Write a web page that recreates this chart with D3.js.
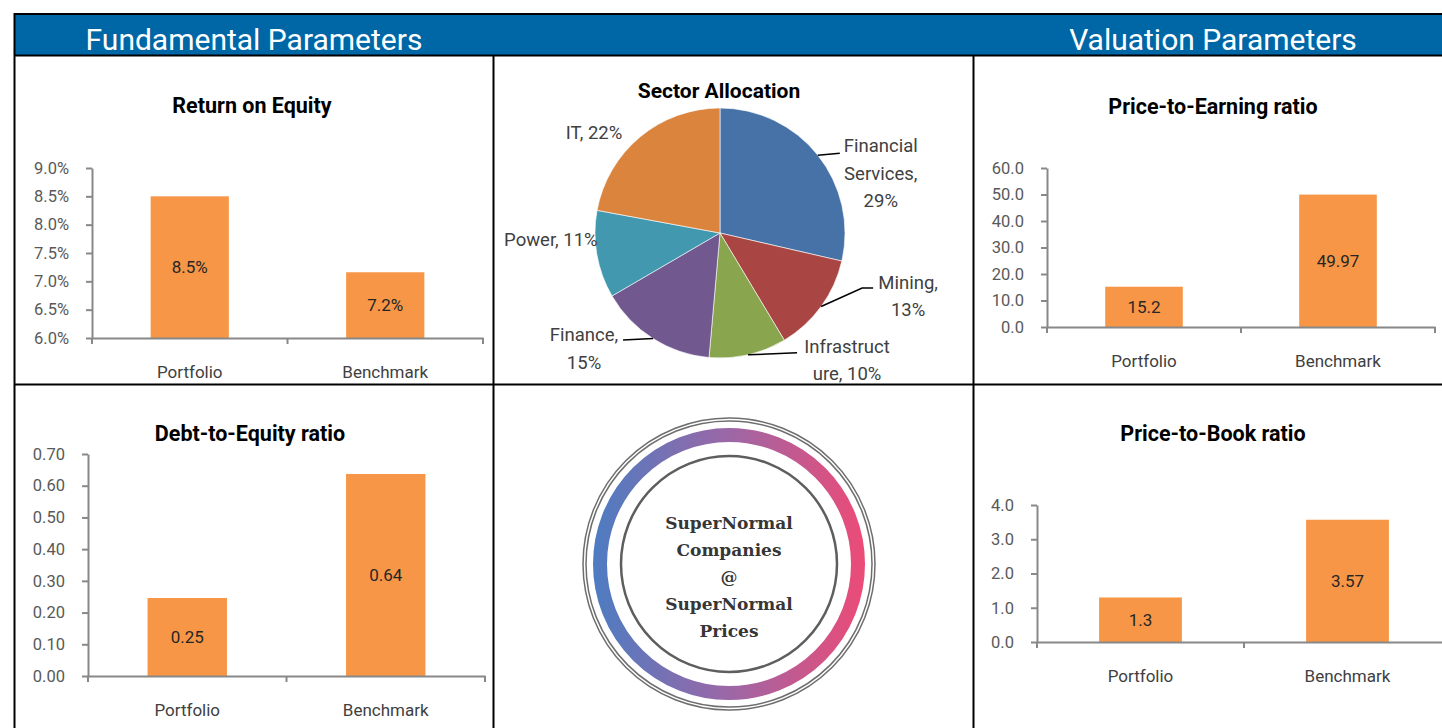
<!DOCTYPE html>
<html>
<head>
<meta charset="utf-8">
<script src="https://cdn.jsdelivr.net/npm/d3@7"></script>
<style>
  body { margin: 0; background: #fff; }
  svg { display: block; font-family: Roboto, "Open Sans", sans-serif; }
</style>
</head>
<body>
<svg id="board" width="1442" height="728"></svg>
<script>
// data
const categories = ["Portfolio", "Benchmark"];

const roeValues = [0.085, 0.0716];
const roeTicks = [0.06, 0.065, 0.07, 0.075, 0.08, 0.085, 0.09];

const deValues = [0.246, 0.637];
const deTicks = [0, 0.1, 0.2, 0.3, 0.4, 0.5, 0.6, 0.7];

const peValues = [15.2, 49.97];
const peTicks = [0, 10, 20, 30, 40, 50, 60];

const pbValues = [1.3, 3.57];
const pbTicks = [0, 1, 2, 3, 4];

const sectorNames = ["Financial Services", "Mining", "Infrastructure", "Finance", "Power", "IT"];
const sectorValues = [28.6, 12.8, 10.0, 15.2, 11.3, 22.1];
const sectorColors = ["#4672a8", "#a94643", "#89a54e", "#71588f", "#4198af", "#db843d"];

const logoLines = ["SuperNormal", "Companies", "@", "SuperNormal", "Prices"];

const svg = d3.select("#board");

// ---- frame ----
svg.append("rect")
  .attr("x", 14).attr("y", 14)
  .attr("width", 1428).attr("height", 41)
  .attr("fill", "#0067a7");

const frame = [
  [14, 14, 1442, 14],
  [14, 55.5, 1442, 55.5],
  [14, 384.5, 1442, 384.5],
  [14.5, 13, 14.5, 728],
  [493.5, 55, 493.5, 728],
  [973.5, 55, 973.5, 728]
];
svg.selectAll(".frame").data(frame).enter().append("line")
  .attr("x1", d => d[0]).attr("y1", d => d[1])
  .attr("x2", d => d[2]).attr("y2", d => d[3])
  .attr("stroke", "#000").attr("stroke-width", 2);

svg.append("text").text("Fundamental Parameters")
  .attr("x", 254).attr("y", 50)
  .attr("text-anchor", "middle").attr("fill", "#fff")
  .attr("font-size", 30);
svg.append("text").text("Valuation Parameters")
  .attr("x", 1213).attr("y", 50)
  .attr("text-anchor", "middle").attr("fill", "#fff")
  .attr("font-size", 30);

// ---- bar charts ----
function barChart(opt) {
  const g = svg.append("g");

  const x = d3.scaleBand().domain(categories).range([opt.x0, opt.x1]).padding(0);
  const y = d3.scaleLinear().domain(opt.domain).range([opt.yBot, opt.yTop]);
  const bw = x.bandwidth() * 0.4;

  g.append("text").text(opt.title)
    .attr("x", opt.titleX).attr("y", opt.titleY)
    .attr("text-anchor", "middle").attr("dominant-baseline", "central")
    .attr("font-size", 21.5).attr("font-weight", "bold").attr("fill", "#000");

  g.selectAll(".bar").data(opt.values).enter().append("rect")
    .attr("x", (d, i) => x(categories[i]) + (x.bandwidth() - bw) / 2)
    .attr("y", d => y(d))
    .attr("width", bw)
    .attr("height", d => y(opt.domain[0]) - y(d))
    .attr("fill", "#f79646");

  g.selectAll(".lbl").data(opt.values).enter().append("text")
    .text(opt.fmt)
    .attr("x", (d, i) => x(categories[i]) + x.bandwidth() / 2)
    .attr("y", d => (y(d) + y(opt.domain[0])) / 2)
    .attr("text-anchor", "middle").attr("dominant-baseline", "central")
    .attr("font-size", 17).attr("fill", "#262626");

  const yAxis = g.append("g")
    .attr("transform", `translate(${opt.x0},0)`)
    .call(d3.axisLeft(y).tickValues(opt.ticks).tickFormat(opt.tickFmt)
      .tickSize(6).tickSizeOuter(0).tickPadding(17));
  yAxis.selectAll("text").attr("font-size", 16.5).attr("fill", "#595959")
    .attr("font-family", "Roboto");

  const xAxis = g.append("g")
    .attr("transform", `translate(0,${opt.yBot})`)
    .call(d3.axisBottom(x).tickSize(0).tickPadding(28));
  xAxis.selectAll("text").attr("font-size", 17).attr("fill", "#404040")
    .attr("font-family", "Roboto");

  // category boundary ticks
  const bounds = categories.map(c => x(c)).concat([opt.x1]);
  g.selectAll(".btick").data(bounds).enter().append("line")
    .attr("x1", d => d).attr("x2", d => d)
    .attr("y1", opt.yBot).attr("y2", opt.yBot + 6)
    .attr("stroke", "#888").attr("stroke-width", 2);

  g.selectAll(".domain").attr("stroke", "#888").attr("stroke-width", 2);
  g.selectAll(".tick line").attr("stroke", "#888").attr("stroke-width", 2);
}

barChart({
  title: "Return on Equity", titleX: 252, titleY: 105,
  values: roeValues, ticks: roeTicks, domain: [0.06, 0.09],
  x0: 92, x1: 483, yTop: 168, yBot: 338,
  fmt: d3.format(".1%"), tickFmt: d3.format(".1%")
});

barChart({
  title: "Debt-to-Equity ratio", titleX: 250, titleY: 433,
  values: deValues, ticks: deTicks, domain: [0, 0.7],
  x0: 88, x1: 485, yTop: 454, yBot: 676,
  fmt: d3.format(".2f"), tickFmt: d3.format(".2f")
});

barChart({
  title: "Price-to-Earning ratio", titleX: 1213, titleY: 106,
  values: peValues, ticks: peTicks, domain: [0, 60],
  x0: 1047, x1: 1435, yTop: 168, yBot: 327,
  fmt: d => String(d), tickFmt: d3.format(".1f")
});

barChart({
  title: "Price-to-Book ratio", titleX: 1213, titleY: 433,
  values: pbValues, ticks: pbTicks, domain: [0, 4],
  x0: 1037, x1: 1451, yTop: 505, yBot: 642,
  fmt: d => String(d), tickFmt: d3.format(".1f")
});

// ---- pie ----
const cx = 720, cy = 233, r = 125;
const pieG = svg.append("g").attr("transform", `translate(${cx},${cy})`);

svg.append("text").text("Sector Allocation")
  .attr("x", 719).attr("y", 91)
  .attr("text-anchor", "middle").attr("dominant-baseline", "central")
  .attr("font-size", 21).attr("font-weight", "bold");

const pie = d3.pie().sort(null).value(d => d);
const arcs = pie(sectorValues);
const arc = d3.arc().innerRadius(0).outerRadius(r);
const total = d3.sum(sectorValues);

pieG.selectAll("path").data(arcs).enter().append("path")
  .attr("d", arc)
  .attr("fill", (d, i) => sectorColors[i])
  .attr("stroke", "#fff").attr("stroke-width", 0.6);

// label placement relative to slice edge at mid angle
const labelLayout = [
  { lead: [[22, -2]], tx: 63, ty: -9, wrap: 9 },
  { lead: [[41, -18.5], [52, -18.5]], tx: 87, ty: -23.5, wrap: 7 },
  { lead: [[49, -2]], tx: 99, ty: -8, wrap: 11 },
  { lead: [[-30, 1.5]], tx: -69, ty: -3.5, wrap: 8 },
  { lead: [], tx: -46, ty: -14.5, wrap: 20 },
  { lead: [], tx: -46, ty: -4, wrap: 20 }
];

function wrap(text, max) {
  const lines = [];
  let cur = "";
  text.split(" ").forEach(w => {
    while (w.length > max) {
      if (cur) { lines.push(cur); cur = ""; }
      lines.push(w.slice(0, max));
      w = w.slice(max);
    }
    if (!cur) cur = w;
    else if ((cur + " " + w).length <= max) cur += " " + w;
    else { lines.push(cur); cur = w; }
  });
  if (cur) lines.push(cur);
  return lines;
}

arcs.forEach((a, i) => {
  const mid = (a.startAngle + a.endAngle) / 2;
  const ex = r * Math.sin(mid), ey = -r * Math.cos(mid);
  const L = labelLayout[i];
  if (L.lead.length) {
    const pts = [[ex, ey]].concat(L.lead.map(p => [ex + p[0], ey + p[1]]));
    pieG.append("path")
      .attr("d", d3.line()(pts))
      .attr("fill", "none").attr("stroke", "#000").attr("stroke-width", 1.5);
  }
  const pct = Math.round(a.data / total * 100);
  const lines = wrap(`${sectorNames[i]}, ${pct}%`, L.wrap);
  const t = pieG.append("text")
    .attr("text-anchor", "middle")
    .attr("font-size", 18.5).attr("fill", "#404040");
  lines.forEach((ln, k) => {
    t.append("tspan")
      .attr("x", ex + L.tx)
      .attr("y", ey + L.ty + k * 27.5)
      .attr("dominant-baseline", "central")
      .text(ln);
  });
});

// ---- logo ----
const lx = 729, ly = 564;
const defs = svg.append("defs");
const grad = defs.append("linearGradient").attr("id", "ring")
  .attr("gradientUnits", "userSpaceOnUse")
  .attr("x1", -136).attr("x2", 136).attr("y1", 0).attr("y2", 0);
grad.append("stop").attr("offset", 0).attr("stop-color", "#4d7cc2");
grad.append("stop").attr("offset", 0.5).attr("stop-color", "#9c67a6");
grad.append("stop").attr("offset", 1).attr("stop-color", "#ec4b77");

const logo = svg.append("g").attr("transform", `translate(${lx},${ly})`);
logo.append("circle").attr("r", 146).attr("fill", "none")
  .attr("stroke", "#6e6e6e").attr("stroke-width", 1.5);
logo.append("circle").attr("r", 143).attr("fill", "none")
  .attr("stroke", "#6e6e6e").attr("stroke-width", 1.5);
logo.append("circle").attr("r", 129).attr("fill", "none")
  .attr("stroke", "url(#ring)").attr("stroke-width", 14);
logo.append("circle").attr("r", 108).attr("fill", "none")
  .attr("stroke", "#5e5e5e").attr("stroke-width", 2.5);

logo.selectAll(".ln").data(logoLines).enter().append("text")
  .text(d => d)
  .attr("x", 0)
  .attr("y", (d, i) => -41 + i * 27)
  .attr("text-anchor", "middle").attr("dominant-baseline", "central")
  .attr("font-family", "'DejaVu Serif', serif").attr("font-weight", "bold")
  .attr("font-size", 17).attr("fill", "#363636");
</script>
</body>
</html>
